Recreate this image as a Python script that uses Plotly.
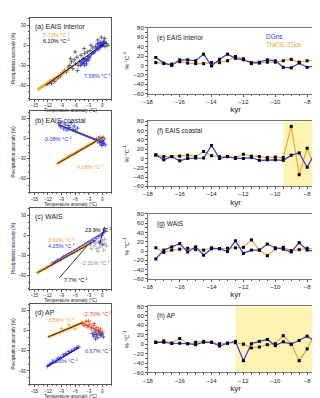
import plotly.graph_objects as go

W, H = 320, 398
BLUE = '#3535f0'
ORANGE = '#f7a530'
NAVY = '#3a3a9a'
RED = '#f04020'
GREY = '#aaaaaa'
FONT = 'Liberation Sans'

# ---- time series (right column) ----
kyr = [-17.5, -17, -16.5, -16, -15.5, -15, -14.5, -14, -13.5, -13, -12.5,
       -12, -11.5, -11, -10.5, -10, -9.5, -9, -8.5, -8, -7.5, -7]

e_dgns = [17, 5, 0, 12, 12, 10, 24, -1, 13, 24, 15, 12, 6, 7, 12, 10, -4, -5, 5, -4, -1, -4]
e_trace = [6, 4, 3, 8, 5, 4, 4, 6, 6, 10, 19, 14, 4, 5, 7, 7, 10, 13, 7, 10, 10, 8]
f_dgns = [8, -3, 4, -5, 0, 1, 1, 28, 0, 4, 0, 0, 2, -4, -3, -3, -4, 7, 12, -19, 13, -18]
f_trace = [7, 4, 4, 5, 7, 4, 15, 6, 4, 4, 2, 9, 5, 4, 2, 3, 2, 69, -35, 22, -20, 20]
g_dgns = [-17, 2, 9, 16, -2, 9, -9, 5, 5, -1, 22, -5, 2, 2, 15, 7, 4, -2, 18, 2, -1, -6]
g_trace = [7, -3, 2, 4, 6, 3, 2, 7, 5, 6, 7, 8, 24, 2, -10, 5, 8, 1, 3, 6, 4, -11]
h_dgns = [4, 4, 2, 2, 1, -1, 4, 4, -4, 2, 6, -35, 1, 6, 10, -3, 5, 0, 8, 17, 6, -45]
h_trace = [4, 7, 2, 12, 1, 4, 6, 4, 1, 2, 3, 0, -8, -6, -1, 1, 18, 0, -35, -10, 24, 2]

shade_f = [-9.5, -7]
shade_h = [-12.5, -7]

# ---- scatter panels (left column): temperature anomaly, precipitation anomaly ----
a_black_x = [-12.0, -11.5, -11.2, -10.8, -10.5, -10.0, -9.6, -9.2, -8.8, -8.3, -7.9, -7.5,
             -7.2, -6.8, -6.5, -6.2, -5.9, -5.6, -5.3, -5.0, -4.7, -4.5, -4.2, -3.9, -3.6,
             -3.3, -3.0, -2.7, -2.4, -2.1, -1.8, -1.5, -1.2, -0.9, -0.6, -0.3, 0.0, 0.3,
             0.6, 0.9, -6.0, -4.0, -2.5, -1.0, 0.5, -7.0, -5.5, -3.5, 1.2, -0.2]
a_black_y = [-58, -55, -57, -52, -54, -50, -48, -46, -41, -38, -40, -33,
             -30, -25, -35, -22, -28, -18, -30, -24, -15, -26, -20, -12, -22,
             -10, -17, -8, -13, -4, -10, -2, -6, 2, -3, 4, 0, 6,
             -2, 3, -10, -5, 0, 8, 10, -20, -38, -28, 0, 12]
a_blue_x = [-4.8, -4.5, -4.3, -4.0, -3.8, -3.5, -3.3, -3.0, -2.8, -1.5, -1.2, -1.0, -0.8,
            -0.6, -0.4, -0.2, 0.0, 0.2, 0.4, -0.5, -1.1, -2.0, -3.9, -4.2]
a_blue_y = [-30, -28, -25, -27, -22, -24, -20, -22, -18, -8, -5, -3, -6,
            -1, 2, -2, 3, 0, 5, 4, 2, -12, -30, -21]
a_orange_x = [-14.0, -13.5, -13.0, -12.6, -12.2, -11.8, -11.4, -11.0, -10.5, -10.0, -9.5,
              -9.0, -8.5, -8.0, -7.5]
a_orange_y = [-66, -63, -61, -60, -57, -56, -53, -52, -50, -49, -46, -44, -41, -39, -37]
a_fit = {'orange': ([-14.2, -6.5], [-66, -31]),
         'black': ([-12.5, 0.8], [-60, 4]),
         'blue': ([-4.8, 0.5], [-31, 6])}

b_blue_x = [-9.6, -9.2, -8.9, -8.5, -8.2, -7.8, -7.5, -7.2, -6.9, -6.5, -6.2, -5.9, -5.5,
            -1.3, -1.0, -0.8, -0.6, -0.4, -0.2, 0.0, 0.2, 0.4, 0.6, -0.5, -0.1, 0.3]
b_blue_y = [23, 18, 25, 15, 22, 13, 20, 17, 24, 14, 19, 12, 16,
            -1, -4, 1, -6, -3, -8, -2, -5, 0, -9, 2, -10, -7]
b_orange_x = [-9.8, -9.3, -8.8, -8.2, -7.6, -7.0, -6.4, -5.8, -5.2, -4.6, -4.0, -3.4,
              -2.8, -2.2, -1.6, -1.0, -0.6, -0.2, 0.2]
b_orange_y = [-37, -35, -32, -30, -27, -24, -23, -20, -18, -15, -13, -10,
              -8, -6, -3, -2, 0, 1, 3]
b_fit = {'blue': ([-9.7, 0.0], [21, -6]),
         'black_b': ([-9.4, 0.3], [21, -5]),
         'orange': ([-9.9, 0.3], [-37, 3]),
         'black': ([-9.9, 0.3], [-37, 3])}

c_orange_x = [-14.3, -13.8, -13.2, -12.6, -12.0, -11.4, -10.8, -10.2, -9.6, -9.0, -8.4,
              -7.8, -7.2, -6.6, -6.0, -5.4, -4.8, -4.2, -3.6, -3.0]
c_orange_y = [-56, -54, -51, -50, -47, -45, -43, -40, -38, -36, -33,
              -31, -28, -27, -24, -22, -20, -17, -15, -12]
c_blue_x = [-11.0, -10.4, -9.8, -9.2, -8.6, -8.0, -7.4, -6.8, -6.2, -5.6, -5.0, -4.4,
            -3.8, -3.2, -2.6, -2.0, -1.4, -0.8, -0.2, 0.3, 0.6, -0.5, 0.1]
c_blue_y = [-42, -40, -37, -36, -32, -31, -28, -26, -24, -22, -19, -17,
            -14, -12, -10, -8, -5, -2, 0, 4, 8, -10, -14]
c_grey_x = [-3.0, -2.6, -2.2, -1.8, -1.5, -1.2, -0.9, -0.6, -0.3, 0.0, 0.3, 0.6, 0.9,
            -2.4, -1.0, 0.5]
c_grey_y = [-10, -14, -8, -16, -12, -20, -10, -18, -14, -8, -22, -12, -16,
            -20, -24, -6]
c_fit = {'orange': ([-14.3, -3.0], [-56, -12]),
         'black': ([-14.3, -1.5], [-56, -8]),
         'blue': ([-11.0, 0.6], [-42, 6]),
         'black7': ([-9.5, -3.4], [-64, -16]),
         'black23': ([-0.6, 0.5], [-13, 13]),
         'grey': ([-3.0, 1.0], [-8, -17])}

d_orange_x = [-11.8, -11.0, -10.2, -9.4, -8.6, -7.8, -7.0, -6.4, -5.8, -5.2, -4.6,
              -9.0, -7.4, -6.0]
d_orange_y = [-9, -7, -4, -3, 0, 2, 4, 7, 8, 10, 12, 3, 9, 3]
d_red_x = [-4.4, -4.0, -3.6, -3.2, -2.8, -2.4, -2.0, -1.6, -1.2, -0.8, -0.4, 0.0, -3.0, -1.8]
d_red_y = [12, 8, 14, 6, 10, 3, 8, 1, 5, 0, 3, -2, 15, 11]
d_navy_x = [-2.2, -1.9, -1.6, -1.3, -1.0, -0.7, -0.4, -0.1, 0.2, -1.5, -0.9]
d_navy_y = [-4, -8, -2, -6, -10, -3, -7, -5, -9, -12, 0]
d_blue_x = [-12.1, -11.6, -11.0, -10.4, -9.8, -9.2, -8.6, -8.0, -7.4, -6.8, -6.2, -5.6, -5.2]
d_blue_y = [-53, -50, -47, -46, -41, -40, -36, -34, -31, -30, -27, -25, -24]
d_fit = {'orange': ([-11.9, -4.5], [-9, 12]),
         'black': ([-11.9, -4.5], [-9, 12]),
         'red': ([-4.5, 0.2], [12, -3]),
         'navy': ([-2.2, 0.2], [-6, -4]),
         'blue': ([-12.1, -5.2], [-53, -25]),
         'black_b': ([-12.1, -5.2], [-53, -25])}

# ---- layout geometry ----
LEFT_X = [17 / W, 100 / W]
RIGHT_X = [137 / W, 315 / W]
left_boxes = [(7, 89), (102, 184), (200, 282), (297, 379)]
right_boxes = [(17, 84), (112, 178), (206, 272), (300, 367)]


def dom(box):
    return [1 - box[1] / H, 1 - box[0] / H]


def sfx(n):
    return '' if n == 1 else str(n)


fig = go.Figure()
layout = dict(width=W, height=H, margin=dict(l=0, r=0, t=0, b=0),
              paper_bgcolor='white', plot_bgcolor='white', showlegend=False,
              font=dict(family=FONT, color='#222'))
annots = []
shapes = []

frame = dict(showline=True, mirror=True, linecolor='#555', linewidth=0.8,
             showgrid=False, zeroline=False, ticks='outside', ticklen=2,
             tickwidth=0.6, tickcolor='#555')

# left scatter axes: 1..4
for i, box in enumerate(left_boxes):
    s = sfx(i + 1)
    layout[f'xaxis{s}'] = dict(frame, domain=LEFT_X, anchor=f'y{s}', range=[-16, 2],
                               tickvals=[-15, -12, -9, -6, -3, 0],
                               minor=dict(dtick=1, ticklen=1, tickcolor='#555'),
                               tickfont=dict(size=4.5), title=dict(text='Temperature anomaly (°C)',
                                                                    font=dict(size=4.5), standoff=0))
    layout[f'yaxis{s}'] = dict(frame, domain=dom(box), anchor=f'x{s}', range=[-80, 41],
                               tickvals=[30, 0, -30, -60],
                               minor=dict(dtick=10, ticklen=1, tickcolor='#555'),
                               tickfont=dict(size=4.5), title=dict(text='Precipitation anomaly (%)',
                                                                    font=dict(size=4.5), standoff=2))

# right time-series axes: 5..8
for i, box in enumerate(right_boxes):
    n = i + 5
    layout[f'xaxis{n}'] = dict(frame, domain=RIGHT_X, anchor=f'y{n}', range=[-18, -7],
                               tickvals=[-18, -16, -14, -12, -10, -8],
                               minor=dict(dtick=0.5, ticklen=1.5, tickcolor='#555'),
                               linecolor='#777', tickfont=dict(size=6),
                               title=dict(text='kyr', font=dict(size=8), standoff=2))
    layout[f'yaxis{n}'] = dict(frame, domain=dom(box), anchor=f'x{n}', range=[-60, 80],
                               tickvals=[80, 60, 40, 20, 0, -20, -40, -60],
                               minor=dict(dtick=10, ticklen=1.5, tickcolor='#555'),
                               linecolor='#777', tickfont=dict(size=6),
                               title=dict(text='% °C<sup>-1</sup>', font=dict(size=6), standoff=3))

fig.update_layout(**layout)


def pts(n, xs, ys, color):
    fig.add_trace(go.Scatter(x=xs, y=ys, xaxis=f'x{sfx(n)}', yaxis=f'y{sfx(n)}', mode='markers',
                             marker=dict(symbol='cross-thin', size=3,
                                         line=dict(width=0.8, color=color))))


def fit(n, seg, color, width=1.0, dash='solid'):
    fig.add_trace(go.Scatter(x=seg[0], y=seg[1], xaxis=f'x{sfx(n)}', yaxis=f'y{sfx(n)}',
                             mode='lines', line=dict(color=color, width=width, dash=dash)))


def label(n, x, y, text, color, size=5.5):
    annots.append(dict(x=x, y=y, xref=f'x{sfx(n)}', yref=f'y{sfx(n)}', text=text,
                       showarrow=False, xanchor='left', font=dict(size=size, color=color)))


# (a)
pts(1, a_black_x, a_black_y, '#444')
pts(1, a_blue_x, a_blue_y, BLUE)
pts(1, a_orange_x, a_orange_y, ORANGE)
fit(1, a_fit['orange'], ORANGE, 2.2)
fit(1, a_fit['black'], 'black', 1.0)
fit(1, a_fit['blue'], BLUE, 1.0)
label(1, -13.5, 16, '5.73% °C<sup>-1</sup>', ORANGE)
label(1, -13.5, 7, '6.10% °C<sup>-1</sup>', 'black')
label(1, -4.5, -46, '7.58% °C<sup>-1</sup>', BLUE)

# (b)
pts(2, b_blue_x, b_blue_y, BLUE)
pts(2, b_orange_x, b_orange_y, ORANGE)
fit(2, b_fit['blue'], BLUE, 1.5)
fit(2, b_fit['black_b'], '#333', 0.8)
fit(2, b_fit['orange'], ORANGE, 2.0)
fit(2, b_fit['black'], 'black', 0.8)
label(2, -13.5, 0, '-3.08% °C<sup>-1</sup>', BLUE)
label(2, -6.0, -42, '4.08% °C<sup>-1</sup>', ORANGE)

# (c)
pts(3, c_grey_x, c_grey_y, GREY)
pts(3, c_orange_x, c_orange_y, ORANGE)
pts(3, c_blue_x, c_blue_y, BLUE)
fit(3, c_fit['orange'], ORANGE, 2.0)
fit(3, c_fit['black'], 'black', 0.8)
fit(3, c_fit['blue'], BLUE, 1.0)
fit(3, c_fit['black7'], 'black', 0.8)
fit(3, c_fit['black23'], 'black', 0.8)
fit(3, c_fit['grey'], GREY, 0.8, 'dash')
label(3, -4.2, 8, '23.9% °C<sup>-1</sup>', 'black')
label(3, -12.5, -7, '3.90% °C<sup>-1</sup>', ORANGE)
label(3, -12.5, -16, '4.25% °C<sup>-1</sup>', BLUE)
label(3, -5.2, -42, '-2.31% °C<sup>-1</sup>', '#888')
label(3, -9.0, -67, '7.7% °C<sup>-1</sup>', 'black')

# (d)
pts(4, d_orange_x, d_orange_y, ORANGE)
pts(4, d_red_x, d_red_y, RED)
pts(4, d_navy_x, d_navy_y, NAVY)
pts(4, d_blue_x, d_blue_y, BLUE)
fit(4, d_fit['orange'], ORANGE, 2.0)
fit(4, d_fit['black'], 'black', 0.8)
fit(4, d_fit['red'], RED, 1.2)
fit(4, d_fit['navy'], NAVY, 1.0)
fit(4, d_fit['blue'], BLUE, 1.5)
fit(4, d_fit['black_b'], 'black', 0.6)
label(4, -4.6, 25, '-2.70% °C<sup>-1</sup>', RED)
label(4, -12.5, 17, '3.89% °C<sup>-1</sup>', ORANGE)
label(4, -4.2, -30, '0.67% °C<sup>-1</sup>', NAVY)
label(4, -11.8, -45, '3.86% °C<sup>-1</sup>', BLUE)

left_titles = ['(a) EAIS interior', '(b) EAIS coastal', '(c) WAIS', '(d) AP']
for i, t in enumerate(left_titles):
    s = sfx(i + 1)
    annots.append(dict(x=0.04, y=0.96, xref=f'x{s} domain', yref=f'y{s} domain',
                       text=t, showarrow=False, xanchor='left', yanchor='top',
                       font=dict(size=7, color='#222')))

# right panels
series = [(e_dgns, e_trace), (f_dgns, f_trace), (g_dgns, g_trace), (h_dgns, h_trace)]
for i, (dg, tr) in enumerate(series):
    n = i + 5
    for ys, c in ((tr, ORANGE), (dg, BLUE)):
        fig.add_trace(go.Scatter(x=kyr, y=ys, xaxis=f'x{n}', yaxis=f'y{n}', mode='lines+markers',
                                 line=dict(color=c, width=1.2),
                                 marker=dict(symbol='square', size=3, color='black'),
                                 cliponaxis=False))

for n, sh in ((6, shade_f), (8, shade_h)):
    shapes.append(dict(type='rect', xref=f'x{n}', yref=f'y{n} domain', x0=sh[0], x1=sh[1],
                       y0=0, y1=1, fillcolor='#fdf3b2', line=dict(width=0), layer='below'))

right_titles = ['(e) EAIS interior', '(f) EAIS coastal', '(g) WAIS', '(h) AP']
for i, t in enumerate(right_titles):
    annots.append(dict(x=0.04, y=0.94, xref=f'x{i + 5} domain', yref=f'y{i + 5} domain',
                       text=t, showarrow=False, xanchor='left', yanchor='top',
                       font=dict(size=6.5, color='#222')))

annots.append(dict(x=0.66, y=0.95, xref='x5 domain', yref='y5 domain', text='DGns',
                   showarrow=False, xanchor='left', yanchor='top', font=dict(size=6.5, color=BLUE)))
annots.append(dict(x=0.66, y=0.83, xref='x5 domain', yref='y5 domain', text='TraCE-21ka',
                   showarrow=False, xanchor='left', yanchor='top', font=dict(size=6.5, color=ORANGE)))

fig.update_layout(annotations=annots, shapes=shapes)
fig.write_html('out.html')
